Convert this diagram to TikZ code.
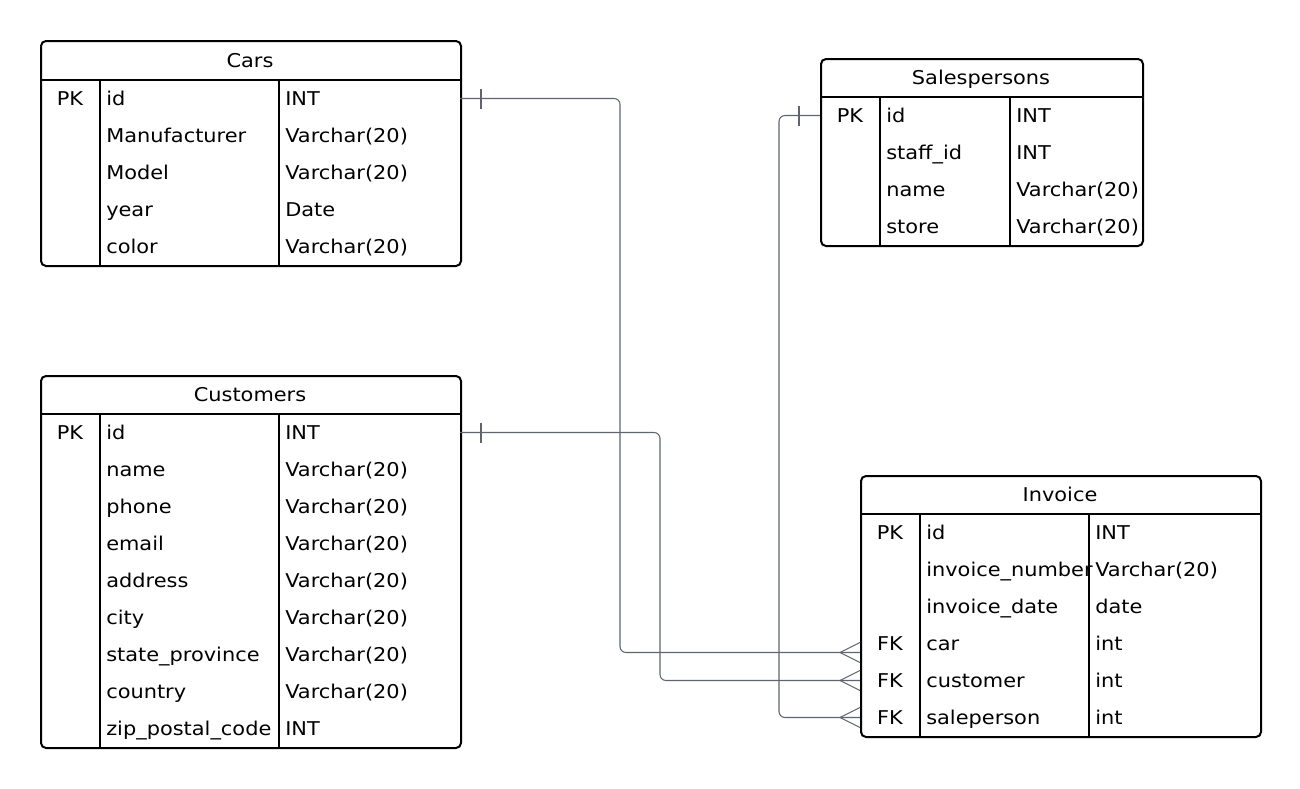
\documentclass[tikz,border=0pt]{standalone}
\usepackage{fontspec}
\setmainfont{DejaVu Sans}[FakeStretch=1.1]
\usetikzlibrary{calc}
\definecolor{linkgray}{HTML}{5F6470}

% frame, header rule, column rules and title of one entity table
% #1 name, #2 left, #3 top, #4 right, #5 bottom, #6 header bottom, #7 first rule, #8 second rule, #9 title
\newcommand\ertable[9]{%
  \node[tbl, anchor=north west, minimum width={(#4-#2)*0.75pt}, minimum height={(#5-#3)*0.75pt}] (#1) at (#2,#3) {};
  \draw[rulebar] (#2,#6) -- (#4,#6);
  \draw[rulebar] (#7,#6) -- (#7,#5);
  \draw[rulebar] (#8,#6) -- (#8,#5);
  \node[txt, anchor=base] (#1-title) at ({(#2+#4)/2},{(#3+#6)/2+7}) {#9};
}
% attribute rows of one entity table
% #1 name, #2 left, #3 right, #4 header bottom, #5 first rule, #6 second rule, #7 rows key/name/type
\newcommand\errows[7]{%
  \foreach \k/\n/\t [count=\i] in {#7} {
    \pgfmathsetmacro\ry{#4+18.5+37*(\i-1)}
    \node[txt, anchor=base] (#1-k\i) at ({(#2+#5)/2},{\ry+6.5}) {\k};
    \node[txt, anchor=base west] (#1-n\i) at ({#5+6},{\ry+6.5}) {\n};
    \node[txt, anchor=base west] (#1-t\i) at ({#6+6},{\ry+6.5}) {\t};
    \coordinate (#1-w\i) at (#2,\ry);
    \coordinate (#1-e\i) at (#3,\ry);
  }
}

\begin{document}
\begin{tikzpicture}[x=0.75pt,y=-0.75pt,
  tbl/.style={draw=black, line width=1.5pt, rounded corners=3.75pt, inner sep=0pt},
  rulebar/.style={draw=black, line width=1.5pt},
  txt/.style={inner sep=0pt, font=\fontsize{14.25}{17}\selectfont},
  rel/.style={draw=linkgray, line width=0.8pt, rounded corners=4.5pt},
  foot/.style={draw=linkgray, line width=0.8pt, sharp corners}]

\fill[white] (0,0) rectangle (1300,789);
\useasboundingbox (0,0) rectangle (1300,789);

% Cars
\ertable{cars}{40}{40}{460}{265}{80}{100}{279}{Cars}
\errows{cars}{40}{460}{80}{100}{279}{PK/id/INT, {}/Manufacturer/Varchar(20), {}/Model/Varchar(20), {}/year/Date, {}/color/Varchar(20)}

% Customers
\ertable{cust}{40}{375}{460}{747}{414}{100}{279}{Customers}
\errows{cust}{40}{460}{414}{100}{279}{PK/id/INT, {}/name/Varchar(20), {}/phone/Varchar(20), {}/email/Varchar(20), {}/address/Varchar(20), {}/city/Varchar(20), {}/state\_province/Varchar(20), {}/country/Varchar(20), {}/zip\_postal\_code/INT}

% Salespersons
\ertable{sales}{820}{58}{1142}{245}{97}{880}{1010}{Salespersons}
\errows{sales}{820}{1142}{97}{880}{1010}{PK/id/INT, {}/staff\_id/INT, {}/name/Varchar(20), {}/store/Varchar(20)}

% Invoice
\ertable{inv}{860}{475}{1260}{736}{514}{920}{1089}{Invoice}
\errows{inv}{860}{1260}{514}{920}{1089}{PK/id/INT, {}/invoice\_number/Varchar(20), {}/invoice\_date/date, FK/car/int, FK/customer/int, FK/saleperson/int}

% relationship ends and bend columns
\coordinate (carend) at ($(inv-w4)+(0,9)$);
\coordinate (custend) at (inv-w5);
\coordinate (salesend) at (inv-w6);
\coordinate (carcol) at (620,0);
\coordinate (custcol) at (660,0);
\coordinate (salescol) at (779,0);

% one-to-many relationships
\draw[rel] (cars-e1) -| (carcol |- carend) -- (carend);
\draw[rel] (cust-e1) -| (custcol |- custend) -- (custend);
\draw[rel] (sales-w1) -| (salescol |- salesend) -- (salesend);

% "one" bars
\draw[foot] ($(cars-e1)+(21,-10)$) -- ++(0,20);
\draw[foot] ($(cust-e1)+(21,-10)$) -- ++(0,20);
\draw[foot] ($(sales-w1)+(-21,-10)$) -- ++(0,20);

% "many" crow's feet
\foreach \e in {carend, custend, salesend} {
  \draw[foot] ($(\e)+(0,-10)$) -- ($(\e)+(-20,0)$) -- ($(\e)+(0,10)$);
}
\end{tikzpicture}
\end{document}
